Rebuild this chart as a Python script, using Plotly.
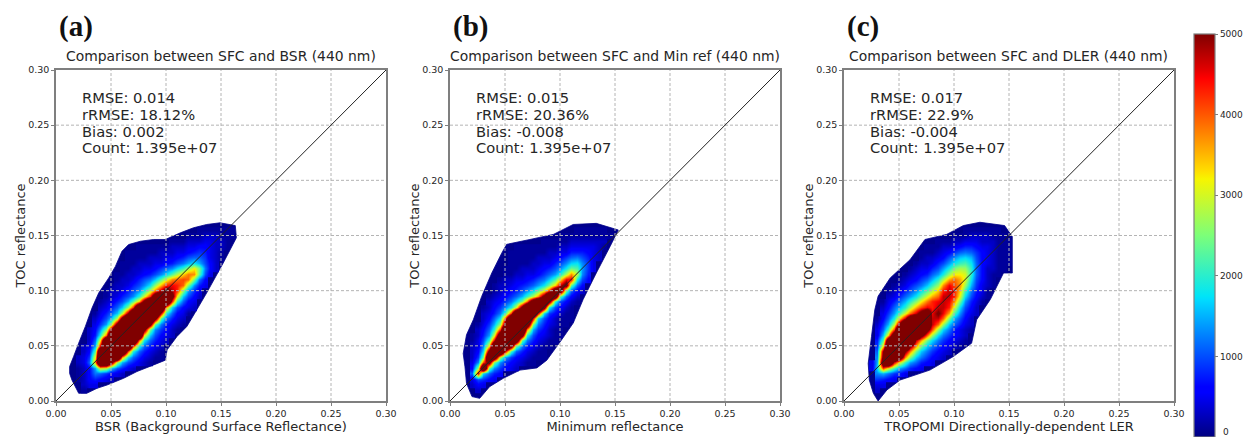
import numpy as np
import plotly.graph_objects as go

W, H = 1244, 437
panel_letters = ["(a)", "(b)", "(c)"]
titles = ["Comparison between SFC and BSR (440 nm)", "Comparison between SFC and Min ref (440 nm)", "Comparison between SFC and DLER (440 nm)"]
xlabels = ["BSR (Background Surface Reflectance)", "Minimum reflectance", "TROPOMI Directionally-dependent LER"]
ylabel = "TOC reflectance"
stats = [["RMSE: 0.014", "rRMSE: 18.12%", "Bias: 0.002", "Count: 1.395e+07"],
         ["RMSE: 0.015", "rRMSE: 20.36%", "Bias: -0.008", "Count: 1.395e+07"],
         ["RMSE: 0.017", "rRMSE: 22.9%", "Bias: -0.004", "Count: 1.395e+07"]]
ticks = [0, 0.05, 0.10, 0.15, 0.20, 0.25, 0.30]
cbar_ticks = [0, 1000, 2000, 3000, 4000, 5000]

# colour level, row per y step (0.005), starting at y = 0.005
# first number of every row: index of first x cell (x = index * 0.005)
a_rows = [
 [99],
 [5,1,2,1],
 [4,1,2,3,3,2,1],
 [4,1,2,4,5,4,3,2,1,1],
 [4,1,2,4,9,8,6,4,3,2,1,1],
 [4,1,2,4,11,28,25,13,7,5,3,2,1,1,1],
 [3,1,2,3,8,35,55,55,50,25,12,7,5,3,2,1,1,1],
 [3,1,2,3,6,30,55,55,55,55,35,14,8,5,3,2,1,1],
 [4,1,2,4,20,55,55,55,55,55,40,16,8,5,3,2,1,1],
 [4,1,2,3,12,45,55,55,55,55,55,40,16,8,5,3,2,1,1],
 [5,1,2,8,30,55,55,55,55,55,55,38,15,8,5,3,2,1],
 [5,1,2,5,16,38,55,55,55,55,55,55,30,13,7,4,3,2,1],
 [6,2,4,10,22,48,55,55,55,55,55,50,22,10,6,4,2,1],
 [6,1,3,6,11,24,50,55,55,55,55,55,50,20,9,5,3,2,1],
 [6,1,2,4,7,12,26,50,55,55,55,55,55,50,20,9,5,3,2,1],
 [7,1,3,5,8,13,26,48,55,55,55,55,55,45,16,8,4,3,1,1],
 [7,1,2,3,5,8,13,24,42,55,55,55,55,55,35,14,7,4,3,2,1],
 [8,1,2,3,5,7,12,20,33,50,55,55,55,55,42,17,8,4,3,1],
 [8,1,1,2,3,5,7,10,17,28,42,52,55,52,50,30,13,7,4,2,1],
 [8,1,1,2,2,3,5,7,10,16,25,36,46,50,46,42,24,11,6,3,2,1],
 [9,1,1,2,2,3,5,7,10,15,24,34,42,44,42,38,22,10,5,3,1],
 [9,1,1,1,2,2,3,5,7,9,13,20,28,36,38,40,38,22,9,4,2,1],
 [10,1,1,1,2,2,3,4,5,7,10,14,20,26,32,37,36,20,7,3,2,1],
 [11,1,1,1,2,2,3,3,4,6,8,10,14,18,24,30,22,9,4,2,1],
 [11,1,1,1,1,2,2,2,3,3,4,5,7,9,12,15,12,7,4,2,1],
 [12,1,1,1,1,1,2,2,2,3,3,4,5,7,8,8,6,3,2,1,1],
 [13,1,1,1,1,1,1,2,2,2,3,3,4,5,6,5,3,2,1,1],
 [14,1,1,1,1,1,1,1,2,2,2,3,3,4,4,3,2,2,1,1],
 [16,1,1,1,1,1,1,1,1,2,2,2,3,3,2,2,1,1],
 [21,1,1,1,1,1,1,2,2,2,1,1,1],
 [26,1,1,1,1,1,1,1],
]
b_rows = [
 [4,1,1],
 [4,1,2,2,1],
 [3,1,2,4,3,2,1],
 [3,1,3,7,6,4,3,2,1],
 [3,2,8,45,14,8,5,4,3,2,1],
 [3,1,4,25,55,20,10,6,4,3,2,1,1,1],
 [3,1,3,10,40,50,22,10,6,4,3,2,1,1,1,1],
 [3,1,2,6,22,55,52,25,11,6,4,3,2,1,1,1,1],
 [3,1,2,4,14,50,55,55,45,18,8,5,3,2,1,1,1,1],
 [3,1,2,3,10,32,55,55,55,50,20,9,5,3,2,1,1,1,1],
 [4,1,3,7,18,45,55,55,55,52,20,9,5,3,2,1,1,1,1],
 [4,1,2,5,11,28,52,55,55,55,50,16,7,4,3,2,1,1,1],
 [4,1,2,4,8,17,40,55,55,55,55,36,12,6,4,2,1,1,1,1],
 [5,1,3,6,12,24,50,55,55,55,52,22,9,5,3,2,1,1,1],
 [5,1,2,4,8,15,40,55,55,55,55,45,14,7,4,2,1,1,1,1],
 [6,2,3,5,9,18,42,55,55,55,55,45,14,6,4,2,1,1,1,1],
 [6,1,2,4,6,10,16,28,50,55,55,55,50,16,7,4,2,1,1,1],
 [6,1,2,3,4,6,9,14,22,38,52,55,55,50,18,7,4,2,1,1,1],
 [7,1,2,3,4,6,8,12,18,26,36,50,55,52,20,8,4,2,1,1,1],
 [8,1,2,3,4,5,7,10,14,20,28,40,52,52,22,8,4,2,1,1,1],
 [8,1,2,2,3,4,5,6,8,11,15,22,32,46,50,20,8,4,2,1,1,1],
 [9,1,2,2,3,3,4,5,7,9,13,19,30,44,44,16,7,4,2,1,1],
 [10,1,1,2,2,3,3,4,6,8,11,16,26,36,26,10,5,3,2,1],
 [10,1,1,1,2,2,2,3,4,5,7,10,15,21,19,11,6,3,2,1],
 [11,1,1,1,1,2,2,3,3,5,7,10,14,15,10,6,3,2,1,1],
 [11,1,1,1,1,1,2,2,2,3,4,6,8,9,7,5,3,2,1,1],
 [11,1,1,1,1,1,1,1,2,2,3,3,5,5,5,4,3,2,1,1],
 [12,1,1,1,1,1,1,1,1,2,2,3,3,3,3,3,2,1,1],
 [17,1,1,1,1,1,2,2,2,2,2,2,2,1,1],
 [20,1,1,1,1,1,1,1,1,1,1,1],
 [23,1,1,1,1,1,1,1,1],
]
c_rows = [
 [6,1,1],
 [6,2,2,1],
 [5,1,3,3,2,1],
 [5,2,6,5,4,3,2,1,1],
 [5,3,10,12,9,6,5,3,2,1,1,1],
 [5,3,14,40,28,18,11,8,5,4,3,2,1,1],
 [5,3,12,52,55,45,30,18,11,8,5,4,3,2,1,1],
 [5,2,10,50,55,55,52,36,22,13,9,6,4,3,2,1,1],
 [5,2,8,48,55,55,55,48,36,21,13,9,6,4,3,2,1,1,1],
 [5,2,6,32,55,55,55,55,48,34,21,13,9,6,4,3,2,1,1],
 [5,1,5,20,52,55,55,55,55,46,34,21,14,9,6,4,3,2,1,1],
 [5,1,3,13,32,52,55,55,55,55,50,38,24,14,9,6,4,3,2,1],
 [6,3,8,18,40,55,55,55,55,55,50,40,24,14,9,5,3,2,1],
 [6,2,6,12,26,48,55,55,55,55,52,46,38,24,13,8,5,3,2,1],
 [6,1,4,8,16,30,46,52,55,55,55,46,46,38,22,12,7,4,2,1],
 [6,1,3,6,11,18,28,38,46,50,52,44,48,44,34,19,10,5,3,2,1],
 [7,2,4,8,12,17,25,34,40,44,42,46,46,42,28,14,7,4,2,1,1],
 [7,1,3,5,8,12,17,23,30,37,42,44,46,44,36,21,10,5,3,1,1],
 [7,1,2,3,5,8,11,15,21,28,34,38,46,46,42,28,14,7,4,2,1],
 [8,1,2,3,5,7,10,14,19,25,32,42,46,42,32,18,9,5,3,1,1],
 [8,1,1,2,3,5,7,9,13,18,24,36,44,40,35,24,12,6,3,2,1,1],
 [9,1,1,2,3,4,6,8,12,17,25,34,38,34,28,15,7,4,2,1,1],
 [9,1,1,1,2,3,4,5,8,11,16,24,30,30,28,17,8,4,2,1,1,1],
 [10,1,1,1,2,3,3,5,7,11,16,22,25,24,17,8,4,2,2,1,1],
 [11,1,1,1,2,2,3,5,7,11,15,18,19,15,8,4,3,2,1,1,1],
 [12,1,1,1,2,2,3,4,7,10,13,14,12,7,4,3,2,1,1,1],
 [13,1,1,1,1,2,3,4,6,8,9,8,6,4,3,2,1,1,1],
 [14,1,1,1,1,2,2,3,4,5,5,4,3,3,2,1,1,1],
 [15,1,1,1,1,1,2,2,3,3,3,2,2,2,1,1,1],
 [19,1,1,1,1,2,2,2,2,1,1,1,1],
 [22,1,1,1,1,1,1,1,1],
]

# colour level as read -> count in hundreds, compared against the colour bar
read_levels = [0, 1, 2, 3, 5, 8, 12, 20, 30, 40, 46, 50, 55]
count_levels = [0, 1.2, 3, 4.5, 7.5, 11, 15, 23, 32, 41, 47, 56, 80]

# outer edge of each point cloud (x, y)
a_edge_x = [.0124,.016,.0206,.0267,.0327,.0388,.0479,.054,.06,.066,.0767,.0888,.0994,.113,.125,.137,.149,.163,.164,.152,.137,.128,.119,.11,.101,.0994,.0888,.0736,.0615,.0464,.0373,.028,.0206,.0145,.0124]
a_edge_y = [.0312,.0403,.0524,.0676,.0842,.0979,.1115,.122,.1358,.1418,.1448,.1464,.1464,.1524,.157,.16,.1615,.159,.148,.125,.098,.0827,.0676,.0585,.0464,.037,.0327,.0267,.0206,.0145,.0115,.007,.007,.019,.025]
b_edge_x = [.012,.015,.0212,.0288,.038,.047,.0515,.0727,.094,.112,.133,.153,.1455,.133,.121,.112,.1015,.088,.079,.0636,.0485,.036,.027,.02,.015,.0136]
b_edge_y = [.043,.06,.0736,.0948,.116,.134,.142,.1464,.151,.16,.161,.155,.14,.116,.092,.0706,.0555,.037,.03,.028,.0206,.013,.0024,.004,.016,.031]
c_edge_x = [.023,.022,.025,.028,.031,.042,.06,.0736,.0933,.1085,.1236,.146,.153,.153,.145,.133,.1206,.116,.0994,.078,.051,.039,.031,.0267]
c_edge_y = [.019,.034,.0585,.0827,.095,.1115,.128,.1464,.151,.159,.162,.159,.149,.116,.116,.092,.0736,.0524,.0403,.028,.019,.01,.0,.007]

all_rows = [a_rows, b_rows, c_rows]
edges = [(a_edge_x, a_edge_y), (b_edge_x, b_edge_y), (c_edge_x, c_edge_y)]

plot_left = [56, 450, 844]
plot_w, plot_top, plot_h = 330, 70, 331

jet = [[0, "rgb(0,0,128)"], [0.11, "rgb(0,0,255)"], [0.125, "rgb(0,0,255)"], [0.34, "rgb(0,219,255)"],
       [0.35, "rgb(0,229,247)"], [0.5, "rgb(124,255,121)"], [0.64, "rgb(247,245,0)"], [0.66, "rgb(255,222,0)"],
       [0.89, "rgb(255,0,0)"], [0.91, "rgb(228,0,0)"], [1, "rgb(128,0,0)"]]

GRID = "#b4b4b4"
FRAME = "#7f7f7f"
TXT = "#262626"
FONT = "DejaVu Sans"
STEP = 0.005


def inside(px, py, ex, ey):
    hit = False
    n = len(ex)
    for i in range(n):
        x0, y0, x1, y1 = ex[i], ey[i], ex[(i + 1) % n], ey[(i + 1) % n]
        if (y0 > py) != (y1 > py) and px < x0 + (py - y0) * (x1 - x0) / (y1 - y0):
            hit = not hit
    return hit


def grid_matrix(rows, ex, ey):
    z = np.full((32, 36), np.nan)
    for k, row in enumerate(rows):
        if row[0] == 99:
            continue
        vals = np.interp(row[1:], read_levels, count_levels) * 100
        z[k + 1, row[0]:row[0] + len(vals)] = vals
    # keep only the cells that lie wholly within the outer edge of the cloud
    for j in range(32):
        for i in range(36):
            corners = [(i * STEP + a * STEP / 2, j * STEP + b * STEP / 2) for a in (-1, 1) for b in (-1, 1)]
            if not all(inside(cx, cy, ex, ey) for cx, cy in corners):
                z[j, i] = np.nan
    return z


fig = go.Figure()
annos = []
layout = {}
shapes = []
xs = [i * STEP for i in range(36)]
ys = [j * STEP for j in range(32)]

for p in range(3):
    sfx = "" if p == 0 else str(p + 1)
    xa, ya = "x" + sfx, "y" + sfx
    ex, ey = edges[p]
    path = "M " + " L ".join("%g,%g" % (a, b) for a, b in zip(ex, ey)) + " Z"
    shapes.append(dict(type="path", path=path, xref=xa, yref=ya, layer="below", fillcolor="rgb(0,0,140)",
                       line=dict(width=0.8, color="rgb(0,0,140)")))
    fig.add_trace(go.Heatmap(x=xs, y=ys, z=grid_matrix(all_rows[p], ex, ey), xaxis=xa, yaxis=ya,
                             coloraxis="coloraxis", zsmooth="best", hoverongaps=False))
    for t in ticks[1:-1]:
        fig.add_trace(go.Scatter(x=[t, t], y=[ticks[0], ticks[-1]], xaxis=xa, yaxis=ya, mode="lines",
                                 line=dict(color=GRID, width=1, dash="3px,2px"), showlegend=False, hoverinfo="skip"))
        fig.add_trace(go.Scatter(x=[ticks[0], ticks[-1]], y=[t, t], xaxis=xa, yaxis=ya, mode="lines",
                                 line=dict(color=GRID, width=1, dash="3px,2px"), showlegend=False, hoverinfo="skip"))
    fig.add_trace(go.Scatter(x=[ticks[0], ticks[-1]], y=[ticks[0], ticks[-1]], xaxis=xa, yaxis=ya, mode="lines",
                             line=dict(color="#222222", width=1), showlegend=False, hoverinfo="skip"))

    common = dict(range=[0, 0.30], tickvals=ticks, ticktext=["%.2f" % t for t in ticks], showgrid=False,
                  zeroline=False, showline=True, mirror=True, linecolor=FRAME, linewidth=1.5,
                  ticks="outside", ticklen=3, tickwidth=1, tickcolor=FRAME, layer="above traces",
                  tickfont=dict(family=FONT, size=9.5, color=TXT))
    l = plot_left[p]
    layout["xaxis" + sfx] = dict(common, domain=[l / W, (l + plot_w) / W], anchor=ya,
                                 title=dict(text=xlabels[p], standoff=2, font=dict(family=FONT, size=13, color=TXT)))
    layout["yaxis" + sfx] = dict(common, domain=[1 - (plot_top + plot_h) / H, 1 - plot_top / H], anchor=xa,
                                 title=dict(text=ylabel, standoff=0, font=dict(family=FONT, size=13, color=TXT)))
    annos.append(dict(text=titles[p], xref="paper", yref="paper", x=(l + plot_w / 2) / W, y=1 - 56 / H,
                      showarrow=False, xanchor="center", yanchor="middle", font=dict(family=FONT, size=13.9, color=TXT)))
    annos.append(dict(text=panel_letters[p], xref="paper", yref="paper", x=(l + 1) / W, y=1 - 26 / H,
                      showarrow=False, xanchor="left", yanchor="middle",
                      font=dict(family="Liberation Serif", size=29, color="#111111", weight="bold")))
    for k, s in enumerate(stats[p]):
        annos.append(dict(text=s, xref="paper", yref="paper", x=(l + 24) / W, y=1 - (98 + k * 16.6) / H,
                          showarrow=False, xanchor="left", yanchor="middle", font=dict(family=FONT, size=14.7, color=TXT)))

annos.append(dict(text="0", xref="paper", yref="paper", x=1221 / W, y=0, showarrow=False, xanchor="left",
                  yanchor="bottom", yshift=-2, font=dict(family=FONT, size=9, color=TXT)))

fig.update_layout(
    width=W, height=H, margin=dict(l=0, r=0, t=0, b=0, autoexpand=False), paper_bgcolor="white", plot_bgcolor="white",
    annotations=annos, showlegend=False, shapes=shapes,
    coloraxis=dict(cmin=0, cmax=5000, colorscale=jet,
                   colorbar=dict(thicknessmode="pixels", thickness=21, lenmode="fraction", len=403 / H,
                                 x=1194 / W, xanchor="left", y=1 - 34 / H, yanchor="top", xpad=0, ypad=0,
                                 outlinecolor=FRAME, outlinewidth=1.2, tickvals=cbar_ticks[1:], ticks="outside",
                                 ticklen=3, tickcolor=FRAME, tickfont=dict(family=FONT, size=9, color=TXT))),
    **layout)

fig.write_html("out.html", config={"displayModeBar": False}, post_script="document.body.style.margin='0';")
